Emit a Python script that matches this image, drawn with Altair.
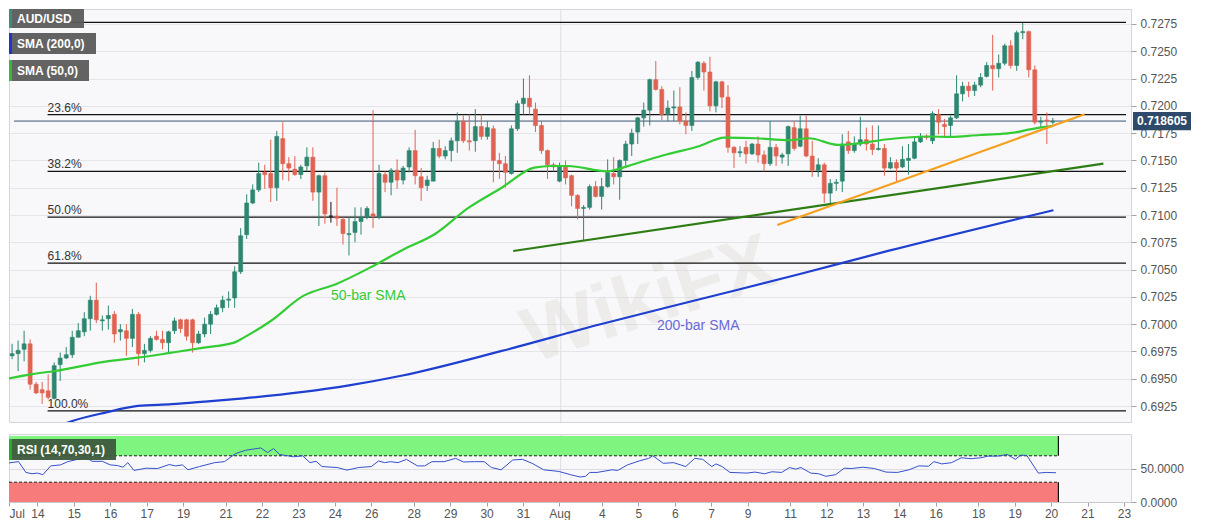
import altair as alt
import pandas as pd

FONT = "Liberation Sans"

# ---------------- candle data (4h bars, index = bar number) ----------------
opens = [
    0.6951, 0.6971, 0.6973, 0.6977, 0.6982, 0.6945, 0.6940, 0.6939, 0.6932, 0.6963,
    0.6969, 0.6972, 0.6988, 0.6993, 0.7005, 0.7022, 0.7003, 0.7005, 0.7009, 0.6993,
    0.6994, 0.6987, 0.7009, 0.6973, 0.6976, 0.6989, 0.6986, 0.6983, 0.6994, 0.7004,
    0.7004, 0.7004, 0.6983, 0.6991, 0.7000, 0.7009, 0.7015, 0.7022, 0.7024, 0.7048,
    0.7082, 0.7111, 0.7123, 0.7139, 0.7138, 0.7125, 0.7170, 0.7147, 0.7142, 0.7137,
    0.7145, 0.7153, 0.7121, 0.7136, 0.7099, 0.7099, 0.7096, 0.7082, 0.7084, 0.7094,
    0.7098, 0.7101, 0.7098, 0.7137, 0.7130, 0.7141, 0.7132, 0.7144, 0.7159, 0.7135,
    0.7127, 0.7131, 0.7161, 0.7154, 0.7159, 0.7168, 0.7186, 0.7168, 0.7168, 0.7181,
    0.7172, 0.7179, 0.7150, 0.7147, 0.7138, 0.7179, 0.7202, 0.7207, 0.7197, 0.7182,
    0.7159, 0.7146, 0.7131, 0.7145, 0.7136, 0.7118, 0.7106, 0.7107, 0.7126, 0.7117,
    0.7126, 0.7138, 0.7135, 0.7150, 0.7165, 0.7176, 0.7189, 0.7196, 0.7224, 0.7215,
    0.7192, 0.7198, 0.7199, 0.7186, 0.7182, 0.7226, 0.7239, 0.7231, 0.7200, 0.7222,
    0.7208, 0.7162, 0.7157, 0.7162, 0.7156, 0.7165, 0.7155, 0.7147, 0.7162, 0.7153,
    0.7156, 0.7180, 0.7163, 0.7179, 0.7154, 0.7141, 0.7146, 0.7120, 0.7129, 0.7131,
    0.7167, 0.7159, 0.7165, 0.7169, 0.7165, 0.7160, 0.7161, 0.7143, 0.7148, 0.7144,
    0.7150, 0.7152, 0.7167, 0.7172, 0.7168, 0.7192, 0.7183, 0.7182, 0.7189, 0.7211,
    0.7218, 0.7214, 0.7219, 0.7227, 0.7237, 0.7234, 0.7239, 0.7255, 0.7237, 0.7267,
    0.7268, 0.7233, 0.7185, 0.7187, 0.7185,
]
highs = [
    0.6976, 0.6982, 0.6985, 0.6994, 0.6986, 0.6947, 0.6947, 0.6954, 0.6965, 0.6974,
    0.6979, 0.6994, 0.7001, 0.7011, 0.7026, 0.7038, 0.7008, 0.7017, 0.7012, 0.7000,
    0.7000, 0.7014, 0.7011, 0.6982, 0.6989, 0.6994, 0.6994, 0.6994, 0.7006, 0.7005,
    0.7005, 0.7005, 0.6994, 0.7006, 0.7012, 0.7018, 0.7026, 0.7030, 0.7053, 0.7088,
    0.7119, 0.7128, 0.7148, 0.7146, 0.7169, 0.7177, 0.7185, 0.7153, 0.7154, 0.7146,
    0.7162, 0.7162, 0.7137, 0.7139, 0.7112, 0.7125, 0.7098, 0.7098, 0.7107, 0.7107,
    0.7108, 0.7196, 0.7146, 0.7140, 0.7143, 0.7151, 0.7145, 0.7162, 0.7178, 0.7143,
    0.7136, 0.7167, 0.7169, 0.7163, 0.7171, 0.7194, 0.7191, 0.7192, 0.7197, 0.7192,
    0.7186, 0.7182, 0.7157, 0.7154, 0.7182, 0.7205, 0.7225, 0.7228, 0.7203, 0.7186,
    0.7160, 0.7148, 0.7148, 0.7150, 0.7137, 0.7119, 0.7109, 0.7128, 0.7131, 0.7134,
    0.7151, 0.7153, 0.7151, 0.7168, 0.7179, 0.7190, 0.7203, 0.7225, 0.7241, 0.7218,
    0.7205, 0.7214, 0.7217, 0.7194, 0.7232, 0.7241, 0.7241, 0.7245, 0.7223, 0.7223,
    0.7219, 0.7163, 0.7163, 0.7168, 0.7166, 0.7172, 0.7159, 0.7186, 0.7165, 0.7157,
    0.7182, 0.7186, 0.7191, 0.7191, 0.7168, 0.7152, 0.7148, 0.7133, 0.7133, 0.7174,
    0.7177, 0.7172, 0.7190, 0.7180, 0.7182, 0.7182, 0.7165, 0.7153, 0.7151, 0.7163,
    0.7165, 0.7172, 0.7175, 0.7174, 0.7195, 0.7197, 0.7188, 0.7191, 0.7228, 0.7222,
    0.7222, 0.7222, 0.7230, 0.7240, 0.7265, 0.7247, 0.7257, 0.7260, 0.7269, 0.7276,
    0.7269, 0.7237, 0.7190, 0.7194, 0.7189,
]
lows = [
    0.6948, 0.6968, 0.6957, 0.6966, 0.6940, 0.6936, 0.6927, 0.6931, 0.6931, 0.6948,
    0.6968, 0.6969, 0.6988, 0.6989, 0.6994, 0.7001, 0.6994, 0.6995, 0.6983, 0.6985,
    0.6971, 0.6979, 0.6962, 0.6965, 0.6974, 0.6985, 0.6977, 0.6974, 0.6991, 0.6992,
    0.6985, 0.6974, 0.6982, 0.6988, 0.6991, 0.7008, 0.7011, 0.7015, 0.7015, 0.7046,
    0.7078, 0.7110, 0.7121, 0.7124, 0.7112, 0.7113, 0.7132, 0.7131, 0.7136, 0.7133,
    0.7140, 0.7113, 0.7090, 0.7092, 0.7093, 0.7090, 0.7073, 0.7063, 0.7075, 0.7082,
    0.7096, 0.7088, 0.7096, 0.7121, 0.7118, 0.7124, 0.7128, 0.7139, 0.7128, 0.7113,
    0.7122, 0.7131, 0.7152, 0.7151, 0.7149, 0.7157, 0.7166, 0.7159, 0.7158, 0.7169,
    0.7169, 0.7130, 0.7133, 0.7125, 0.7137, 0.7177, 0.7192, 0.7192, 0.7176, 0.7156,
    0.7133, 0.7140, 0.7130, 0.7128, 0.7108, 0.7096, 0.7077, 0.7105, 0.7116, 0.7105,
    0.7125, 0.7128, 0.7114, 0.7143, 0.7154, 0.7165, 0.7181, 0.7182, 0.7214, 0.7187,
    0.7186, 0.7186, 0.7183, 0.7174, 0.7177, 0.7224, 0.7214, 0.7195, 0.7194, 0.7198,
    0.7157, 0.7143, 0.7153, 0.7147, 0.7155, 0.7148, 0.7140, 0.7145, 0.7145, 0.7147,
    0.7145, 0.7159, 0.7162, 0.7153, 0.7135, 0.7135, 0.7111, 0.7111, 0.7122, 0.7121,
    0.7156, 0.7157, 0.7163, 0.7159, 0.7155, 0.7159, 0.7136, 0.7142, 0.7131, 0.7143,
    0.7137, 0.7151, 0.7166, 0.7169, 0.7165, 0.7174, 0.7172, 0.7172, 0.7188, 0.7204,
    0.7208, 0.7209, 0.7217, 0.7226, 0.7214, 0.7226, 0.7237, 0.7234, 0.7232, 0.7261,
    0.7226, 0.7183, 0.7180, 0.7165, 0.7183,
]
closes = [
    0.6970, 0.6973, 0.6976, 0.6982, 0.6945, 0.6937, 0.6937, 0.6933, 0.6962, 0.6969,
    0.6972, 0.6988, 0.6994, 0.7005, 0.7022, 0.7004, 0.7004, 0.7008, 0.6991, 0.6995,
    0.6987, 0.7009, 0.6973, 0.6976, 0.6987, 0.6986, 0.6983, 0.6993, 0.7003, 0.6996,
    0.6989, 0.6983, 0.6991, 0.7000, 0.7009, 0.7015, 0.7022, 0.7023, 0.7048, 0.7081,
    0.7111, 0.7123, 0.7138, 0.7137, 0.7125, 0.7172, 0.7147, 0.7143, 0.7137, 0.7144,
    0.7153, 0.7121, 0.7136, 0.7101, 0.7099, 0.7097, 0.7083, 0.7083, 0.7094, 0.7098,
    0.7106, 0.7099, 0.7138, 0.7130, 0.7141, 0.7132, 0.7143, 0.7159, 0.7136, 0.7125,
    0.7132, 0.7161, 0.7154, 0.7159, 0.7168, 0.7186, 0.7168, 0.7167, 0.7181, 0.7172,
    0.7180, 0.7150, 0.7147, 0.7139, 0.7179, 0.7202, 0.7207, 0.7199, 0.7182, 0.7159,
    0.7146, 0.7144, 0.7144, 0.7134, 0.7118, 0.7106, 0.7107, 0.7126, 0.7117, 0.7126,
    0.7139, 0.7135, 0.7150, 0.7165, 0.7175, 0.7189, 0.7196, 0.7224, 0.7215, 0.7192,
    0.7198, 0.7199, 0.7186, 0.7182, 0.7226, 0.7240, 0.7231, 0.7200, 0.7222, 0.7208,
    0.7162, 0.7157, 0.7158, 0.7156, 0.7165, 0.7155, 0.7147, 0.7162, 0.7154, 0.7155,
    0.7181, 0.7161, 0.7179, 0.7154, 0.7141, 0.7146, 0.7120, 0.7129, 0.7130, 0.7165,
    0.7159, 0.7165, 0.7169, 0.7165, 0.7160, 0.7161, 0.7143, 0.7148, 0.7143, 0.7151,
    0.7152, 0.7167, 0.7172, 0.7171, 0.7193, 0.7185, 0.7181, 0.7189, 0.7211, 0.7218,
    0.7214, 0.7219, 0.7226, 0.7237, 0.7234, 0.7239, 0.7255, 0.7237, 0.7267, 0.7268,
    0.7233, 0.7185, 0.7186, 0.7186, 0.718605,
]

# moving averages
sma50_x = [0, 4.1, 8.2, 16.5, 21.9, 27.5, 32.9, 37.9, 39.5, 44, 49.4, 54.9, 60.5, 65.9,
           71.3, 76.9, 82.4, 87.8, 90.6, 93.4, 99.9, 101.6, 104.3, 109.9, 115.3, 119.4,
           124.7, 130.1, 133.4, 138.4, 141.2, 146.6, 153.2, 157, 161.9, 164.7, 167.5,
           170.2, 174.1]
sma50_y = [0.69498, 0.69541, 0.69571, 0.69657, 0.69693, 0.69739, 0.69785, 0.69831,
           0.69877, 0.70029, 0.70259, 0.70368, 0.70518, 0.70680, 0.70826, 0.71067,
           0.71250, 0.71434, 0.71449, 0.71449, 0.71400, 0.71419, 0.71465, 0.71556,
           0.71632, 0.71709, 0.71703, 0.71685, 0.71703, 0.71642, 0.71654, 0.71694,
           0.71719, 0.71715, 0.71733, 0.71740, 0.71754, 0.71785, 0.71816]
sma200_x = [7, 11, 16.5, 21.9, 27.5, 32.9, 39.5, 49.4, 57.0, 65.9, 82.4, 98.8, 115.3,
            131.8, 146.6, 174.1]
sma200_y = [0.6903, 0.69113, 0.69190, 0.69251, 0.69267, 0.69290, 0.69321, 0.69380,
            0.69440, 0.69530, 0.69755, 0.69999, 0.70228, 0.70457, 0.70671, 0.71044]

# trend lines
support_x = [84.3, 182.4]
support_y = [0.7067, 0.7147]
rising_x = [128.2, 179.3]
rising_y = [0.70908, 0.71923]

# fibonacci retracement
fib_levels = [0.72765, 0.7192, 0.7140, 0.7098, 0.7056, 0.69205]
fib_labels = ["", "23.6%", "38.2%", "50.0%", "61.8%", "100.0%"]
fib_start = 6.9

last_price = 0.718605

# RSI (14)
rsi_x = [0, 2.9, 4.1, 5.1, 6, 6.9, 8.2, 9.8, 11, 12.6, 13.9, 15, 16.7, 18, 19.2, 20.1,
         20.9, 21.9, 23.9, 25.8, 27.7, 28.8, 29.9, 30.8, 32.7, 35.2, 36.8, 38.7, 40.3,
         42.8, 43.9, 44.9, 45.9, 48.2, 49.7, 50.9, 51.9, 52.9, 55.4, 57, 58.9, 61, 62.2,
         63.2, 64.2, 65.4, 66.8, 68.6, 69.8, 71, 73, 74.9, 76.2, 78, 79.6, 80.8, 82.4,
         84.3, 85.9, 87.5, 89.4, 91.9, 93.8, 95.4, 96.3, 97, 98.2, 100.7, 101.6, 103.2,
         105.1, 106.7, 107.4, 109.1, 110.8, 112.8, 114.3, 115.6, 117.1, 117.8, 118.8,
         120.1, 122.9, 124.2, 125.8, 127, 128.6, 129.9, 130.9, 131.8, 133.4, 134.7,
         135.9, 137.5, 138.9, 140.1, 142, 143.9, 145.8, 147.7, 149.6, 151.2, 152.8,
         153.7, 155, 156.6, 158.2, 159.8, 161.4, 162.6, 164.2, 165.8, 167.1, 168, 169,
         170.9, 172.2, 173.8]
rsi_v = [57.7, 61.1, 44.8, 42.8, 43.8, 41.4, 54.7, 56.2, 61.1, 64.6, 68.5, 61.6, 61.6,
         56.2, 55.2, 52.7, 59.6, 47.8, 51.2, 50.7, 56.7, 54.7, 56.2, 48.8, 53.7, 59.6,
         61.1, 73.5, 78.4, 81.9, 74.9, 80.9, 72.0, 68.5, 70.0, 59.6, 61.6, 53.7, 52.2,
         48.3, 52.2, 53.7, 62.1, 59.6, 61.1, 59.6, 64.6, 54.7, 54.7, 61.1, 61.1, 66.1,
         60.6, 61.1, 61.1, 52.2, 48.8, 63.6, 64.6, 58.6, 48.8, 46.3, 41.4, 37.9, 38.9,
         44.8, 44.8, 48.8, 47.8, 56.2, 62.1, 66.1, 70.0, 58.6, 59.6, 53.7, 66.1, 64.6,
         53.7, 57.7, 53.7, 44.8, 43.8, 45.3, 42.8, 45.8, 44.8, 52.2, 49.8, 52.2, 43.8,
         42.8, 38.9, 41.4, 51.2, 50.7, 52.7, 50.7, 45.3, 44.8, 48.8, 54.7, 54.2, 61.1,
         57.7, 59.6, 67.0, 65.6, 67.0, 69.5, 69.5, 72.0, 64.6, 71.0, 70.5, 43.8, 44.8,
         44.3]
rsi_band_end = 174.2
rsi_overbought = [70, 100]
rsi_oversold = [0, 30]

# axes
price_ticks = [0.6925, 0.6950, 0.6975, 0.7000, 0.7025, 0.7050, 0.7075, 0.7100,
               0.7125, 0.7150, 0.7175, 0.7200, 0.7225, 0.7250, 0.7275]
x_tick_vals = [1.32, 6, 12, 18, 24, 30, 37, 43, 49, 55, 61, 68, 74, 80, 86, 92, 99,
               105, 111, 117, 123, 130, 136, 142, 148, 154, 161, 167, 173, 179, 185]
x_tick_labels = ["Jul", "14", "15", "16", "17", "19", "21", "22", "23", "24", "26",
                 "28", "29", "30", "31", "Aug", "4", "5", "6", "7", "9", "11", "12",
                 "13", "14", "16", "18", "19", "20", "21", "23"]
month_break = 92.2

x_dom = [1.32, 186.16]
y_dom = [0.69104, 0.72887]

# ---------------- styles ----------------
UP, DOWN = "#2e8670", "#e06352"

xs = alt.Scale(domain=x_dom, nice=False, zero=False)
ys = alt.Scale(domain=y_dom, nice=False, zero=False)
rs = alt.Scale(domain=[0, 103], nice=False, zero=False)

y_axis = alt.Axis(orient="right", values=price_ticks, format=".4f", title=None,
                  grid=True, gridColor="#e4e4e9", domain=False, tickColor="#a0a0a8",
                  tickSize=5, labelColor="#555555", labelFontSize=12, labelFont=FONT,
                  labelPadding=4)
rsi_axis = alt.Axis(orient="right", values=[0, 50], format=".4f", title=None,
                    grid=True, gridColor="#dcdce2", domain=False, tickColor="#a0a0a8",
                    tickSize=5, labelColor="#555555", labelFontSize=12, labelFont=FONT,
                    labelPadding=4)
label_expr = f"{x_tick_labels}[indexof({x_tick_vals}, datum.value)]"
x_axis = alt.Axis(values=x_tick_vals, labelExpr=label_expr, title=None, grid=False,
                  domain=True, domainColor="#c8c8d0", tickColor="#a0a0a8", tickSize=4,
                  labelColor="#555555", labelFontSize=12, labelFont=FONT, labelPadding=2,
                  labelFlush=True, labelOverlap=False)


def X(f):
    return alt.X(f, type="quantitative", scale=xs, axis=None)


def XR(f):
    return alt.X(f, type="quantitative", scale=xs, axis=x_axis)


def Y(f):
    return alt.Y(f, type="quantitative", scale=ys, axis=y_axis)


def YR(f):
    return alt.Y(f, type="quantitative", scale=rs, axis=rsi_axis)


# ---------------- main panel ----------------
candles = pd.DataFrame({"i": list(range(len(opens))), "o": opens, "h": highs,
                        "l": lows, "c": closes})
candles["dir"] = ["up" if c > o else ("down" if c < o else "flat")
                  for o, c in zip(opens, closes)]
cscale = alt.Scale(domain=["up", "down", "flat"], range=[UP, DOWN, "#111111"])

# faint watermark
wm_df = pd.DataFrame({"t": ["WikiFX"]})
watermark = alt.Chart(wm_df).mark_text(fontSize=78, fontWeight="bold", font=FONT, angle=342,
                                       color="#d9d6d0", opacity=0.35).encode(
    x=alt.value(640), y=alt.value(292), text="t:N")

month_df = pd.DataFrame({"m": [month_break]})
month_line = alt.Chart(month_df).mark_rule(color="#dcdce2", strokeWidth=1).encode(x=X("m"))

fib_df = pd.DataFrame({"lvl": fib_levels, "lab": fib_labels,
                       "x0": [fib_start] * len(fib_levels),
                       "x1": [x_dom[1]] * len(fib_levels)})
fib_lines = alt.Chart(fib_df).mark_rule(color="#111111", strokeWidth=1.2, clip=True).encode(
    x=X("x0"), x2="x1", y=Y("lvl"))
fib_text = alt.Chart(fib_df).mark_text(align="left", baseline="middle", dy=-7,
                                       fontSize=12, font=FONT, color="#333333").encode(
    x=X("x0"), y=Y("lvl"), text="lab:N")

price_df = pd.DataFrame({"p": [last_price], "x0": [x_dom[0]], "x1": [x_dom[1]]})
price_line = alt.Chart(price_df).mark_rule(color="#3a5372", strokeWidth=1).encode(
    x=X("x0"), x2="x1", y=Y("p"))

wicks = alt.Chart(candles).mark_rule(strokeWidth=1, clip=True).encode(
    x=X("i"), y=Y("l"), y2="h",
    color=alt.Color("dir:N", scale=cscale, legend=None))
bodies = alt.Chart(candles).mark_bar(size=4, clip=True, strokeWidth=0.6).encode(
    x=X("i"), y=Y("o"), y2="c",
    color=alt.Color("dir:N", scale=cscale, legend=None),
    stroke=alt.Stroke("dir:N", scale=cscale, legend=None))

sma200 = alt.Chart(pd.DataFrame({"i": sma200_x, "p": sma200_y})).mark_line(
    color="#1f3fd0", strokeWidth=2.2, clip=True, interpolate="monotone").encode(
    x=X("i"), y=Y("p"))
sma50 = alt.Chart(pd.DataFrame({"i": sma50_x, "p": sma50_y})).mark_line(
    color="#33cc33", strokeWidth=2.2, clip=True, interpolate="monotone").encode(
    x=X("i"), y=Y("p"))
support = alt.Chart(pd.DataFrame({"i": support_x, "p": support_y})).mark_line(
    color="#2e7d14", strokeWidth=2.2, clip=True).encode(x=X("i"), y=Y("p"))
rising = alt.Chart(pd.DataFrame({"i": rising_x, "p": rising_y})).mark_line(
    color="#f5a01e", strokeWidth=2.2, clip=True).encode(x=X("i"), y=Y("p"))

ann50 = alt.Chart(pd.DataFrame({"i": [54.0], "p": [0.70259], "t": ["50-bar SMA"]})).mark_text(
    align="left", baseline="middle", fontSize=14, font=FONT, color="#33cc33").encode(
    x=X("i"), y=Y("p"), text="t:N")
ann200 = alt.Chart(pd.DataFrame({"i": [108.2], "p": [0.69980], "t": ["200-bar SMA"]})).mark_text(
    align="left", baseline="middle", fontSize=14, font=FONT, color="#6a6ad8").encode(
    x=X("i"), y=Y("p"), text="t:N")

tag_df = pd.DataFrame({"p": [last_price]})
tag_bg = alt.Chart(tag_df).mark_point(shape="M-1.6,-0.5H1.6V0.5H-1.6Z", size=1314,
                                      filled=True, opacity=1, color="#2d4a6a").encode(
    x=alt.value(1153), y=Y("p"))
tag_tx = alt.Chart(tag_df).mark_text(color="white", fontWeight="bold", fontSize=12,
                                     font=FONT).encode(
    x=alt.value(1153), y=Y("p"), text=alt.Text("p:Q", format=".6f"))


def tag_box(label, stripe, x1, y0, y1, fill="#5b5b5b"):
    d = pd.DataFrame({"t": [label]})
    b = alt.Chart(d).mark_rect(color=fill, opacity=0.95).encode(
        x=alt.value(0), x2=alt.value(x1), y=alt.value(y0), y2=alt.value(y1))
    s = alt.Chart(d).mark_rect(color=stripe).encode(
        x=alt.value(0), x2=alt.value(3), y=alt.value(y0), y2=alt.value(y1))
    t = alt.Chart(d).mark_text(align="left", baseline="middle", color="white",
                               fontWeight="bold", fontSize=12, font=FONT).encode(
        x=alt.value(8), y=alt.value((y0 + y1) / 2), text="t:N")
    return [b, s, t]


main = alt.layer(
    watermark,
    month_line, fib_lines, fib_text, price_line, wicks, bodies,
    sma200, sma50, support, rising, ann50, ann200,
    *tag_box("AUD/USD", "#3a8f7a", 75, 0, 19),
    *tag_box("SMA (200,0)", "#2233cc", 87, 24, 45),
    *tag_box("SMA (50,0)", "#33bb33", 80, 51, 72),
    tag_bg, tag_tx,
).properties(width=1122, height=413)

# ---------------- RSI panel ----------------
def band(lo_hi, fill):
    d = pd.DataFrame({"x0": [x_dom[0]], "x1": [rsi_band_end],
                      "lo": [lo_hi[0]], "hi": [lo_hi[1]]})
    r = alt.Chart(d).mark_rect(clip=True, color=fill).encode(
        x=XR("x0"), x2="x1", y=YR("lo"), y2="hi")
    e = alt.Chart(d).mark_rule(color="#111111", strokeWidth=1.2).encode(
        x=XR("x1"), y=YR("lo"), y2="hi")
    return [r, e]


band_lines = alt.Chart(pd.DataFrame({"x0": [x_dom[0]] * 2, "x1": [rsi_band_end] * 2,
                                     "v": [rsi_overbought[0], rsi_oversold[1]]})).mark_rule(
    color="#222222", strokeWidth=1, strokeDash=[3, 2]).encode(x=XR("x0"), x2="x1", y=YR("v"))
month_line_r = alt.Chart(month_df).mark_rule(color="#dcdce2", strokeWidth=1).encode(x=XR("m"))
rsi_line = alt.Chart(pd.DataFrame({"i": rsi_x, "v": rsi_v})).mark_line(
    color="#3550cc", strokeWidth=1, clip=True).encode(x=XR("i"), y=YR("v"))

rsi_box = tag_box("RSI (14,70,30,1)", "#22b022", 107, 5, 26, fill="#3d5a3d")

rsi = alt.layer(month_line_r, *band(rsi_overbought, "#7ef57e"), *band(rsi_oversold, "#f77b7b"),
                band_lines, rsi_line, *rsi_box).properties(width=1122, height=68)

chart = alt.vconcat(main, rsi, spacing=10).properties(
    padding=0, background="white"
).configure_view(fill="#f8f8fa", stroke="#d4d4dc", strokeWidth=1)

chart.save("out.html", embed_options={"renderer": "svg", "actions": False})
